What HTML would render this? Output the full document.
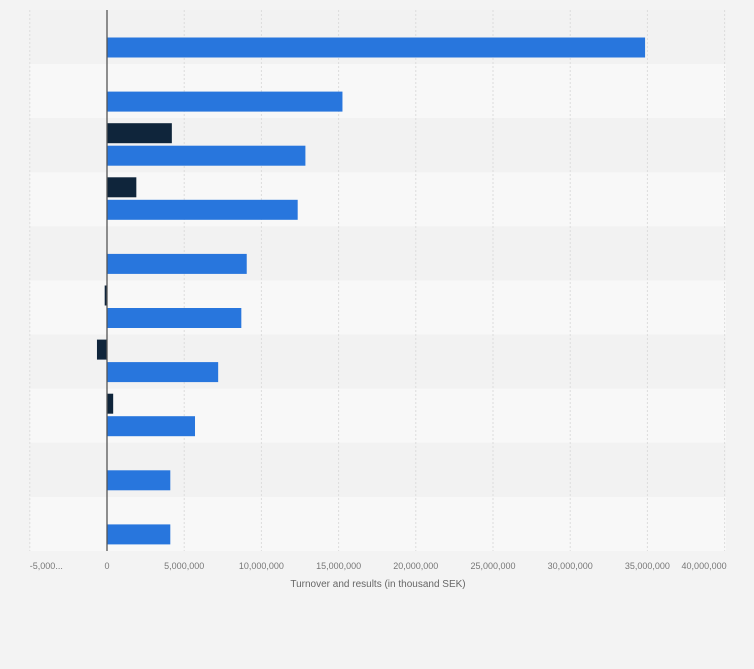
<!DOCTYPE html>
<html><head><meta charset="utf-8"><style>
body{margin:0;background:#f3f3f3;font-family:"Liberation Sans",sans-serif}
svg{display:block}
</style></head><body>
<svg id="c" width="754" height="669"></svg>
<script>
const categories=['1','2','3','4','5','6','7','8','9','10'];
const turnover=[34850000,15250000,12850000,12350000,9050000,8700000,7200000,5700000,4100000,4100000];
const results=[null,null,4200000,1900000,null,-150000,-650000,400000,null,null];
const tickVals=[-5000000,0,5000000,10000000,15000000,20000000,25000000,30000000,35000000,40000000];
const tickLabels=['-5,000...','0','5,000,000','10,000,000','15,000,000','20,000,000','25,000,000','30,000,000','35,000,000','40,000,000'];
const NS='http://www.w3.org/2000/svg';
const svg=document.getElementById('c');
const x=v=>107+(v/5000000)*77.2;
const top0=10,rowH=54.1;
function el(t,a,p){const e=document.createElementNS(NS,t);for(const k in a)e.setAttribute(k,a[k]);(p||svg).appendChild(e);return e;}
categories.forEach((c,i)=>{const r=el('rect',{x:30,y:top0+i*rowH,width:696,height:rowH,fill:i%2?'#f8f8f8':'#f2f2f2'});

});
tickVals.forEach((v,i)=>{if(v!==0){const l=el('line',{x1:x(v),x2:x(v),y1:10,y2:551,stroke:'#dcdcdc','stroke-dasharray':'2,2'});

}
let anchor='middle',tx=x(v);
if(i===0){anchor='start';tx=x(v);}
if(i===tickVals.length-1){anchor='end';tx=x(v)+2;}
const t=el('text',{x:tx,y:569,'text-anchor':anchor,'font-size':'9',fill:'#777'});t.textContent=tickLabels[i];

});
categories.forEach((c,i)=>{const y0=top0+i*rowH;
const v=turnover[i];const b=el('rect',{x:Math.min(x(0),x(v)),y:y0+27.5,width:Math.abs(x(v)-x(0)),height:20,fill:'#2876dd'});


const rv=results[i];if(rv!==null){const d=el('rect',{x:Math.min(x(0),x(rv)),y:y0+5,width:Math.max(2,Math.abs(x(rv)-x(0))),height:20,fill:'#0f253b'});

}
});
const ax=el('line',{x1:x(0),x2:x(0),y1:10,y2:551,stroke:'#555','stroke-width':1.3});


const tt=el('text',{x:378,y:587,'text-anchor':'middle','font-size':'10',fill:'#666'});tt.textContent='Turnover and results (in thousand SEK)';


</script>
</body></html>
